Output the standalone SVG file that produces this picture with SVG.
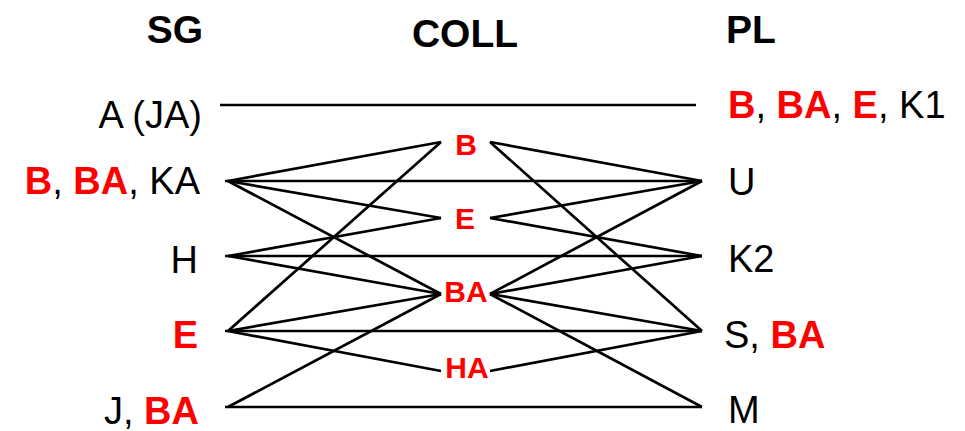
<svg xmlns="http://www.w3.org/2000/svg" width="965" height="431" viewBox="0 0 965 431">
<style>
text{font-family:"Liberation Sans",Arial,sans-serif;fill:#000}
.h{font-weight:bold;font-size:39px;text-anchor:middle}
.n{font-size:38px}
.l{text-anchor:end}
.r{fill:#FF0000;font-weight:bold}
.m{font-size:30px;font-weight:bold;fill:#FF0000;text-anchor:middle}
#connectors line{stroke:#000;stroke-width:2.7;stroke-linecap:butt}
</style>
<rect width="965" height="431" fill="#fff"/>
<g id="headers">
<text class="h" x="175" y="43">SG</text>
<text class="h" x="465" y="47">COLL</text>
<text class="h" x="751" y="43">PL</text>
</g>
<g id="connectors">
<line x1="220" y1="105" x2="696" y2="105"/>
<line x1="225" y1="181" x2="702" y2="181"/>
<line x1="225" y1="256" x2="702" y2="256"/>
<line x1="225" y1="331" x2="702" y2="331"/>
<line x1="225" y1="407" x2="702" y2="407"/>
<line x1="228" y1="181" x2="441" y2="142"/>
<line x1="228" y1="181" x2="441" y2="218"/>
<line x1="228" y1="181" x2="441" y2="294"/>
<line x1="228" y1="256" x2="441" y2="218"/>
<line x1="228" y1="256" x2="441" y2="294"/>
<line x1="228" y1="331" x2="441" y2="142"/>
<line x1="228" y1="331" x2="441" y2="294"/>
<line x1="228" y1="331" x2="441" y2="371"/>
<line x1="228" y1="407" x2="441" y2="294"/>
<line x1="702" y1="181" x2="490" y2="142"/>
<line x1="702" y1="181" x2="490" y2="218"/>
<line x1="702" y1="181" x2="490" y2="294"/>
<line x1="702" y1="256" x2="490" y2="218"/>
<line x1="702" y1="256" x2="490" y2="294"/>
<line x1="702" y1="331" x2="490" y2="142"/>
<line x1="702" y1="331" x2="490" y2="294"/>
<line x1="702" y1="331" x2="490" y2="371"/>
<line x1="702" y1="407" x2="490" y2="294"/>
</g>
<g id="sg-aja"><text class="n l" x="202" y="128">A (JA)</text></g>
<g id="sg-ka"><text class="n l" x="200" y="194"><tspan class="r">B</tspan>, <tspan class="r">BA</tspan>, KA</text></g>
<g id="sg-h"><text class="n l" x="198" y="273">H</text></g>
<g id="sg-e"><text class="n l r" x="198" y="348">E</text></g>
<g id="sg-j"><text class="n l" x="199" y="424">J, <tspan class="r">BA</tspan></text></g>
<g id="coll-b"><text class="m" x="466" y="155">B</text></g>
<g id="coll-e"><text class="m" x="465" y="229">E</text></g>
<g id="coll-ba"><text class="m" x="466" y="302">BA</text></g>
<g id="coll-ha"><text class="m" x="467" y="378">HA</text></g>
<g id="pl-k1"><text class="n" x="728" y="118"><tspan class="r">B</tspan>, <tspan class="r">BA</tspan>, <tspan class="r">E</tspan>, K1</text></g>
<g id="pl-u"><text class="n" x="728" y="195">U</text></g>
<g id="pl-k2"><text class="n" x="728" y="272">K2</text></g>
<g id="pl-s"><text class="n" x="724" y="348">S, <tspan class="r">BA</tspan></text></g>
<g id="pl-m"><text class="n" x="728" y="423">M</text></g>
</svg>
